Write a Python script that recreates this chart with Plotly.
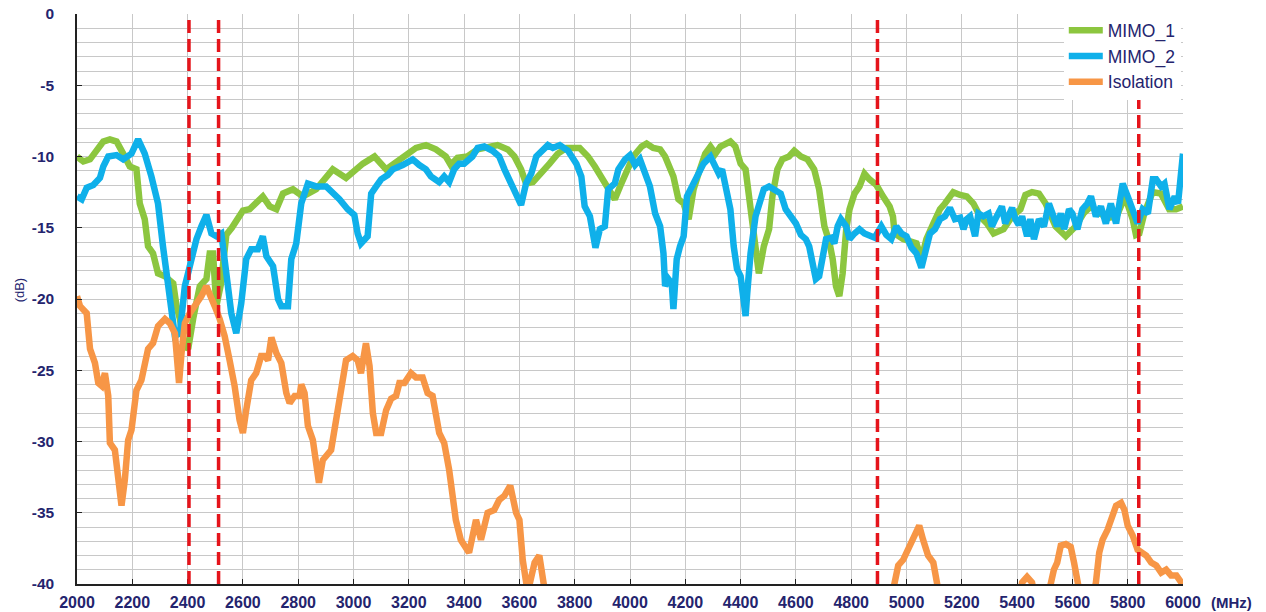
import plotly.graph_objects as go

# ---------------- data ----------------
mimo1_freq = [2000, 2023, 2047, 2071, 2095, 2119, 2143, 2167, 2191, 2215, 2227, 2245, 2257, 2275, 2293,
              2318, 2348, 2360, 2372, 2390, 2402, 2420, 2444, 2468, 2480, 2492, 2504, 2520, 2540, 2560,
              2580, 2600, 2624, 2648, 2672, 2697, 2721, 2745, 2781, 2817, 2865, 2925, 2973, 3034, 3076,
              3118, 3166, 3226, 3262, 3298, 3334, 3352, 3376, 3412, 3449, 3485, 3521, 3558, 3582, 3606,
              3624, 3649, 3679, 3709, 3739, 3770, 3818, 3848, 3873, 3903, 3927, 3945, 3964, 3988, 4012,
              4042, 4060, 4084, 4109, 4127, 4145, 4157, 4175, 4194, 4212, 4230, 4248, 4272, 4291, 4309,
              4327, 4363, 4381, 4400, 4418, 4430, 4442, 4454, 4466, 4484, 4503, 4515, 4533, 4551, 4575,
              4594, 4618, 4642, 4666, 4684, 4703, 4721, 4733, 4745, 4757, 4769, 4782, 4794, 4812, 4830,
              4848, 4866, 4891, 4915, 4939, 4951, 4957, 4988, 5036, 5054, 5072, 5097, 5121, 5139, 5169,
              5194, 5218, 5242, 5266, 5291, 5315, 5351, 5382, 5412, 5430, 5454, 5479, 5503, 5539, 5576,
              5612, 5640, 5667, 5700, 5730, 5760, 5790, 5818, 5830, 5842, 5860, 5890, 5920, 5950, 5975,
              6000]
mimo1_db = [-10.0, -10.35, -10.2, -9.65, -8.95, -8.8, -8.95, -9.8, -10.7, -10.9, -13.3, -14.4, -16.3, -16.8, -18.2,
            -18.4, -18.9, -20.5, -21.4, -23.3, -23.5, -21.4, -19.1, -18.6, -16.8, -16.8, -20.5, -19.0, -15.5, -15.0,
            -14.3, -13.8, -13.7, -13.2, -12.8, -13.5, -13.7, -12.6, -12.3, -12.8, -12.3, -10.9, -11.5, -10.5, -10.0,
            -10.9, -10.2, -9.4, -9.2, -9.5, -10.0, -10.6, -10.1, -10.0, -9.5, -9.4, -9.2, -9.5, -10.0, -10.9,
            -11.9, -11.8, -11.2, -10.5, -9.8, -9.4, -9.4, -10.0, -10.7, -11.6, -12.3, -13.0, -12.1, -10.9, -10.0,
            -9.3, -9.1, -9.4, -9.5, -10.0, -10.9, -11.4, -13.0, -13.3, -14.4, -12.3, -11.2, -9.8, -9.3, -9.8,
            -9.3, -8.95, -9.3, -10.5, -10.9, -12.8, -14.0, -16.1, -18.2, -16.3, -15.1, -12.8, -10.9, -10.2, -10.0,
            -9.6, -10.0, -10.2, -10.9, -12.3, -14.9, -16.0, -17.2, -19.1, -19.8, -18.2, -15.1, -13.7, -12.6, -12.1,
            -11.2, -11.6, -12.0, -12.8, -13.5, -14.2, -15.4, -15.8, -16.1, -17.2, -15.8, -14.7, -13.7, -13.3, -12.5,
            -12.7, -12.8, -13.3, -14.2, -14.7, -15.4, -15.1, -14.2, -13.7, -12.7, -12.5, -12.6, -13.3, -14.9, -15.6,
            -14.9, -14.0, -13.5, -14.0, -14.3, -14.2, -12.8, -14.4, -15.5, -15.4, -14.0, -12.5, -12.6, -13.7, -13.7,
            -13.5]

mimo2_freq = [2000, 2017, 2035, 2059, 2083, 2095, 2113, 2143, 2167, 2197, 2221, 2245, 2269, 2293, 2311,
              2329, 2342, 2354, 2372, 2390, 2408, 2432, 2450, 2468, 2486, 2504, 2522, 2540, 2558, 2576,
              2594, 2612, 2630, 2654, 2672, 2685, 2709, 2727, 2739, 2763, 2775, 2793, 2811, 2835, 2865,
              2901, 2925, 2949, 2979, 3003, 3015, 3027, 3051, 3064, 3082, 3100, 3124, 3142, 3178, 3214,
              3238, 3262, 3280, 3310, 3328, 3346, 3364, 3382, 3400, 3430, 3449, 3473, 3503, 3527, 3546,
              3570, 3588, 3606, 3624, 3643, 3661, 3685, 3703, 3721, 3746, 3776, 3806, 3824, 3836, 3855,
              3867, 3875, 3891, 3909, 3921, 3945, 3958, 3982, 4000, 4018, 4036, 4054, 4072, 4091, 4109,
              4121, 4127, 4139, 4151, 4157, 4169, 4181, 4194, 4206, 4224, 4242, 4266, 4291, 4309, 4321,
              4333, 4351, 4363, 4375, 4387, 4400, 4412, 4418, 4424, 4436, 4454, 4466, 4484, 4503, 4521,
              4545, 4563, 4581, 4600, 4618, 4636, 4648, 4660, 4672, 4684, 4697, 4709, 4727, 4739, 4751,
              4763, 4782, 4794, 4812, 4830, 4848, 4866, 4885, 4909, 4927, 4945, 4963, 4982, 5000, 5018,
              5036, 5054, 5072, 5085, 5103, 5121, 5139, 5157, 5175, 5194, 5206, 5218, 5230, 5248, 5260,
              5278, 5297, 5309, 5321, 5333, 5345, 5357, 5369, 5382, 5394, 5406, 5418, 5436, 5448, 5461,
              5479, 5497, 5515, 5533, 5545, 5558, 5570, 5588, 5600, 5618, 5636, 5654, 5667, 5685, 5703,
              5721, 5739, 5758, 5770, 5782, 5800, 5818, 5836, 5854, 5873, 5891, 5903, 5921, 5933, 5951,
              5970, 5982, 5994, 6000]
mimo2_db = [-12.8, -13.0, -12.2, -12.0, -11.5, -10.7, -10.0, -9.9, -10.2, -9.8, -8.8, -9.8, -11.4, -13.3, -16.3,
            -19.1, -21.0, -22.6, -22.4, -19.1, -17.7, -15.8, -14.9, -14.1, -15.4, -15.6, -15.4, -17.9, -21.0, -22.4,
            -20.3, -17.2, -16.5, -16.5, -15.6, -17.0, -17.7, -20.0, -20.5, -20.5, -17.2, -16.1, -13.3, -11.9, -12.1,
            -12.1, -12.5, -13.0, -13.7, -14.1, -15.4, -16.1, -15.6, -12.6, -12.1, -11.6, -11.3, -10.9, -10.6, -10.2,
            -10.6, -10.9, -11.4, -11.8, -11.4, -11.8, -10.9, -10.5, -10.5, -10.0, -9.4, -9.3, -9.6, -10.0, -10.9,
            -11.9, -12.8, -13.4, -11.9, -11.2, -10.0, -9.5, -9.2, -9.4, -9.2, -9.6, -10.5, -11.4, -13.5, -14.2,
            -15.6, -16.4, -15.1, -14.9, -12.3, -11.9, -10.9, -10.2, -9.9, -10.6, -10.2, -11.2, -12.1, -14.0, -14.9,
            -16.8, -19.1, -18.6, -18.9, -20.7, -17.2, -16.3, -15.6, -12.8, -12.1, -11.2, -10.5, -10.0, -10.9, -11.2,
            -10.9, -12.3, -13.7, -16.3, -17.9, -18.4, -20.3, -21.2, -19.6, -16.8, -14.2, -13.4, -12.3, -12.1, -12.3,
            -12.6, -13.7, -14.2, -14.7, -15.5, -15.8, -16.3, -17.7, -18.6, -18.4, -16.8, -15.8, -15.7, -16.1, -14.9,
            -14.4, -14.9, -15.8, -15.4, -15.1, -15.4, -15.6, -15.7, -14.9, -15.5, -15.8, -14.9, -15.4, -15.6, -16.4,
            -16.8, -17.8, -16.5, -15.4, -15.1, -14.4, -14.2, -13.6, -14.4, -14.3, -15.1, -14.4, -14.2, -15.6, -14.0,
            -14.2, -14.0, -14.9, -14.4, -14.0, -13.5, -14.7, -14.2, -13.6, -14.4, -14.8, -14.2, -15.6, -14.4, -15.8,
            -14.4, -14.9, -13.3, -14.4, -14.9, -14.0, -15.1, -13.7, -14.0, -15.1, -13.7, -13.3, -12.8, -14.2, -13.5,
            -14.7, -13.3, -14.7, -13.3, -11.9, -12.8, -13.7, -14.7, -13.7, -14.0, -11.6, -11.6, -12.1, -11.9, -13.7,
            -12.8, -13.3, -10.0, -9.8]

iso_freq = [2000, 2011, 2035, 2047, 2065, 2077, 2089, 2101, 2113, 2119, 2137, 2149, 2161, 2173, 2185,
            2197, 2215, 2233, 2257, 2275, 2293, 2318, 2336, 2354, 2362, 2369, 2378, 2390, 2408, 2426,
            2450, 2468, 2480, 2498, 2516, 2534, 2552, 2570, 2588, 2600, 2612, 2630, 2648, 2666, 2679,
            2691, 2703, 2721, 2739, 2757, 2769, 2787, 2805, 2811, 2823, 2835, 2853, 2865, 2875, 2889,
            2907, 2919, 2937, 2955, 2973, 2997, 3015, 3027, 3045, 3058, 3070, 3082, 3100, 3118, 3136,
            3154, 3166, 3184, 3208, 3226, 3250, 3268, 3286, 3310, 3328, 3346, 3358, 3370, 3388, 3418,
            3443, 3461, 3485, 3509, 3527, 3546, 3567, 3588, 3600, 3612, 3630, 3655, 3672, 3690, 3700,
            3800,
            4940, 4957, 4970, 4988, 5006, 5018, 5030, 5046, 5060, 5078, 5097, 5109, 5125,
            5300,
            5408, 5418, 5436, 5454, 5466,
            5490,
            5510, 5521, 5533, 5545, 5558, 5576, 5594, 5606, 5618, 5630,
            5650,
            5675, 5685, 5697, 5709, 5727, 5739, 5758, 5776, 5788, 5800, 5818, 5836, 5854, 5867, 5885,
            5903, 5921, 5939, 5957, 5976, 5994, 6000]
iso_db = [-19.8, -20.5, -21.0, -23.5, -24.5, -25.9, -26.1, -25.2, -26.8, -30.1, -30.6, -33.1, -34.5, -32.7, -29.9,
          -29.2, -26.4, -25.7, -23.5, -23.1, -21.9, -21.4, -21.7, -22.4, -23.8, -25.9, -23.8, -21.7, -21.0, -20.5,
          -19.8, -19.1, -19.6, -20.5, -21.4, -22.6, -24.3, -26.1, -28.5, -29.4, -27.8, -25.7, -25.2, -24.0, -24.0,
          -24.3, -22.7, -23.8, -24.5, -26.6, -27.3, -26.8, -26.8, -26.0, -26.6, -28.9, -29.9, -31.7, -32.9, -31.3,
          -30.8, -30.6, -28.5, -26.1, -24.3, -24.0, -24.3, -25.2, -23.1, -24.7, -28.0, -29.4, -29.4, -27.8, -27.0,
          -26.8, -25.9, -25.9, -25.2, -25.5, -25.5, -26.6, -26.8, -29.4, -30.1, -32.0, -33.6, -35.5, -36.9, -37.8,
          -35.5, -36.9, -35.0, -34.8, -34.1, -33.8, -33.1, -35.0, -35.5, -38.3, -40.6, -38.5, -38.0, -40.5, -41.5,
          None,
          -41.5, -39.9, -38.7, -38.3, -37.6, -37.1, -36.6, -35.9, -36.9, -38.0, -38.5, -39.9, -41.5,
          None,
          -41.0, -39.9, -39.5, -39.9, -41.0,
          None,
          -41.0, -39.9, -39.0, -38.5, -37.3, -37.2, -37.4, -38.5, -39.7, -41.0,
          None,
          -41.0, -39.9, -37.8, -36.9, -36.2, -35.5, -34.5, -34.3, -34.8, -35.9, -36.6, -37.6, -37.8, -38.0, -38.5,
          -38.7, -39.2, -39.0, -39.4, -39.4, -39.9, -40.0]

band_edges = [2405, 2512, 4895, 5840]
series_names = ["MIMO_1", "MIMO_2", "Isolation"]
series_colors = ["#8CC63F", "#0FB0EA", "#F79646"]
x_ticks = list(range(2000, 6001, 200))
y_ticks = list(range(-40, 1, 5))
y_tick_labels = [str(v) for v in y_ticks]

NAVY = "#24246E"
FONT = "Liberation Sans, Arial, sans-serif"

fig = go.Figure()
for name, fx, fy, col in zip(series_names,
                             [mimo1_freq, mimo2_freq, iso_freq],
                             [mimo1_db, mimo2_db, iso_db],
                             series_colors):
    fig.add_trace(go.Scatter(x=fx, y=fy, mode="lines", name=name,
                             line=dict(color=col, width=6.5), connectgaps=False))

for xe in band_edges:
    fig.add_shape(type="line", xref="x", yref="paper", x0=xe, x1=xe, y0=0, y1=1,
                  line=dict(color="#E5141B", width=3.5, dash="13px,6px"), layer="above")

fig.update_layout(
    width=1266, height=612,
    margin=dict(l=77, r=83, t=14, b=28, autoexpand=False),
    paper_bgcolor="white", plot_bgcolor="white",
    font=dict(family=FONT, color=NAVY, size=16),
    showlegend=True,
    legend=dict(x=0.998, y=1.003, xanchor="right", yanchor="top",
                bgcolor="white", borderwidth=0,
                font=dict(family=FONT, size=17.5, color=NAVY),
                itemwidth=34, tracegroupgap=0),
    xaxis=dict(range=[2000, 6000], tickmode="array", tickvals=x_ticks,
               showgrid=True, gridcolor="#C8C8C8", gridwidth=1,
               showline=True, linecolor="#222222", linewidth=1.5,
               ticks="inside", ticklen=5, tickcolor="#222222",
               tickfont=dict(family=FONT, size=16, color=NAVY, weight="bold"),
               ticklabelstandoff=3, ticklabeloverflow="allow",
               zeroline=False, automargin=False),
    yaxis=dict(range=[-40, 0], tickmode="array", tickvals=y_ticks, ticktext=y_tick_labels,
               showgrid=True, gridcolor="#C8C8C8", gridwidth=1,
               minor=dict(dtick=1, showgrid=True, gridcolor="#C8C8C8", gridwidth=1),
               showline=True, linecolor="#222222", linewidth=1.5,
               ticks="inside", ticklen=5, tickcolor="#222222",
               tickfont=dict(family=FONT, size=15.5, color=NAVY, weight="bold"),
               ticklabelstandoff=18, ticklabeloverflow="allow",
               zeroline=False, automargin=False),
    annotations=[
        dict(text="(dB)", xref="paper", yref="paper", x=-0.052, y=0.516,
             showarrow=False, textangle=-90, font=dict(family=FONT, size=13, color=NAVY),
             xanchor="center", yanchor="middle"),
        dict(text="(MHz)", xref="paper", yref="paper", x=1.0443, y=-0.033,
             showarrow=False, font=dict(family=FONT, size=15, color=NAVY, weight="bold"),
             xanchor="center", yanchor="middle"),
    ],
)

# remove the browser's default 8px page margin so the figure fills the window exactly,
# and hide the interactive toolbar
fig.write_html("out.html", config={"displayModeBar": False},
               post_script="document.body.style.margin = '0px';")
